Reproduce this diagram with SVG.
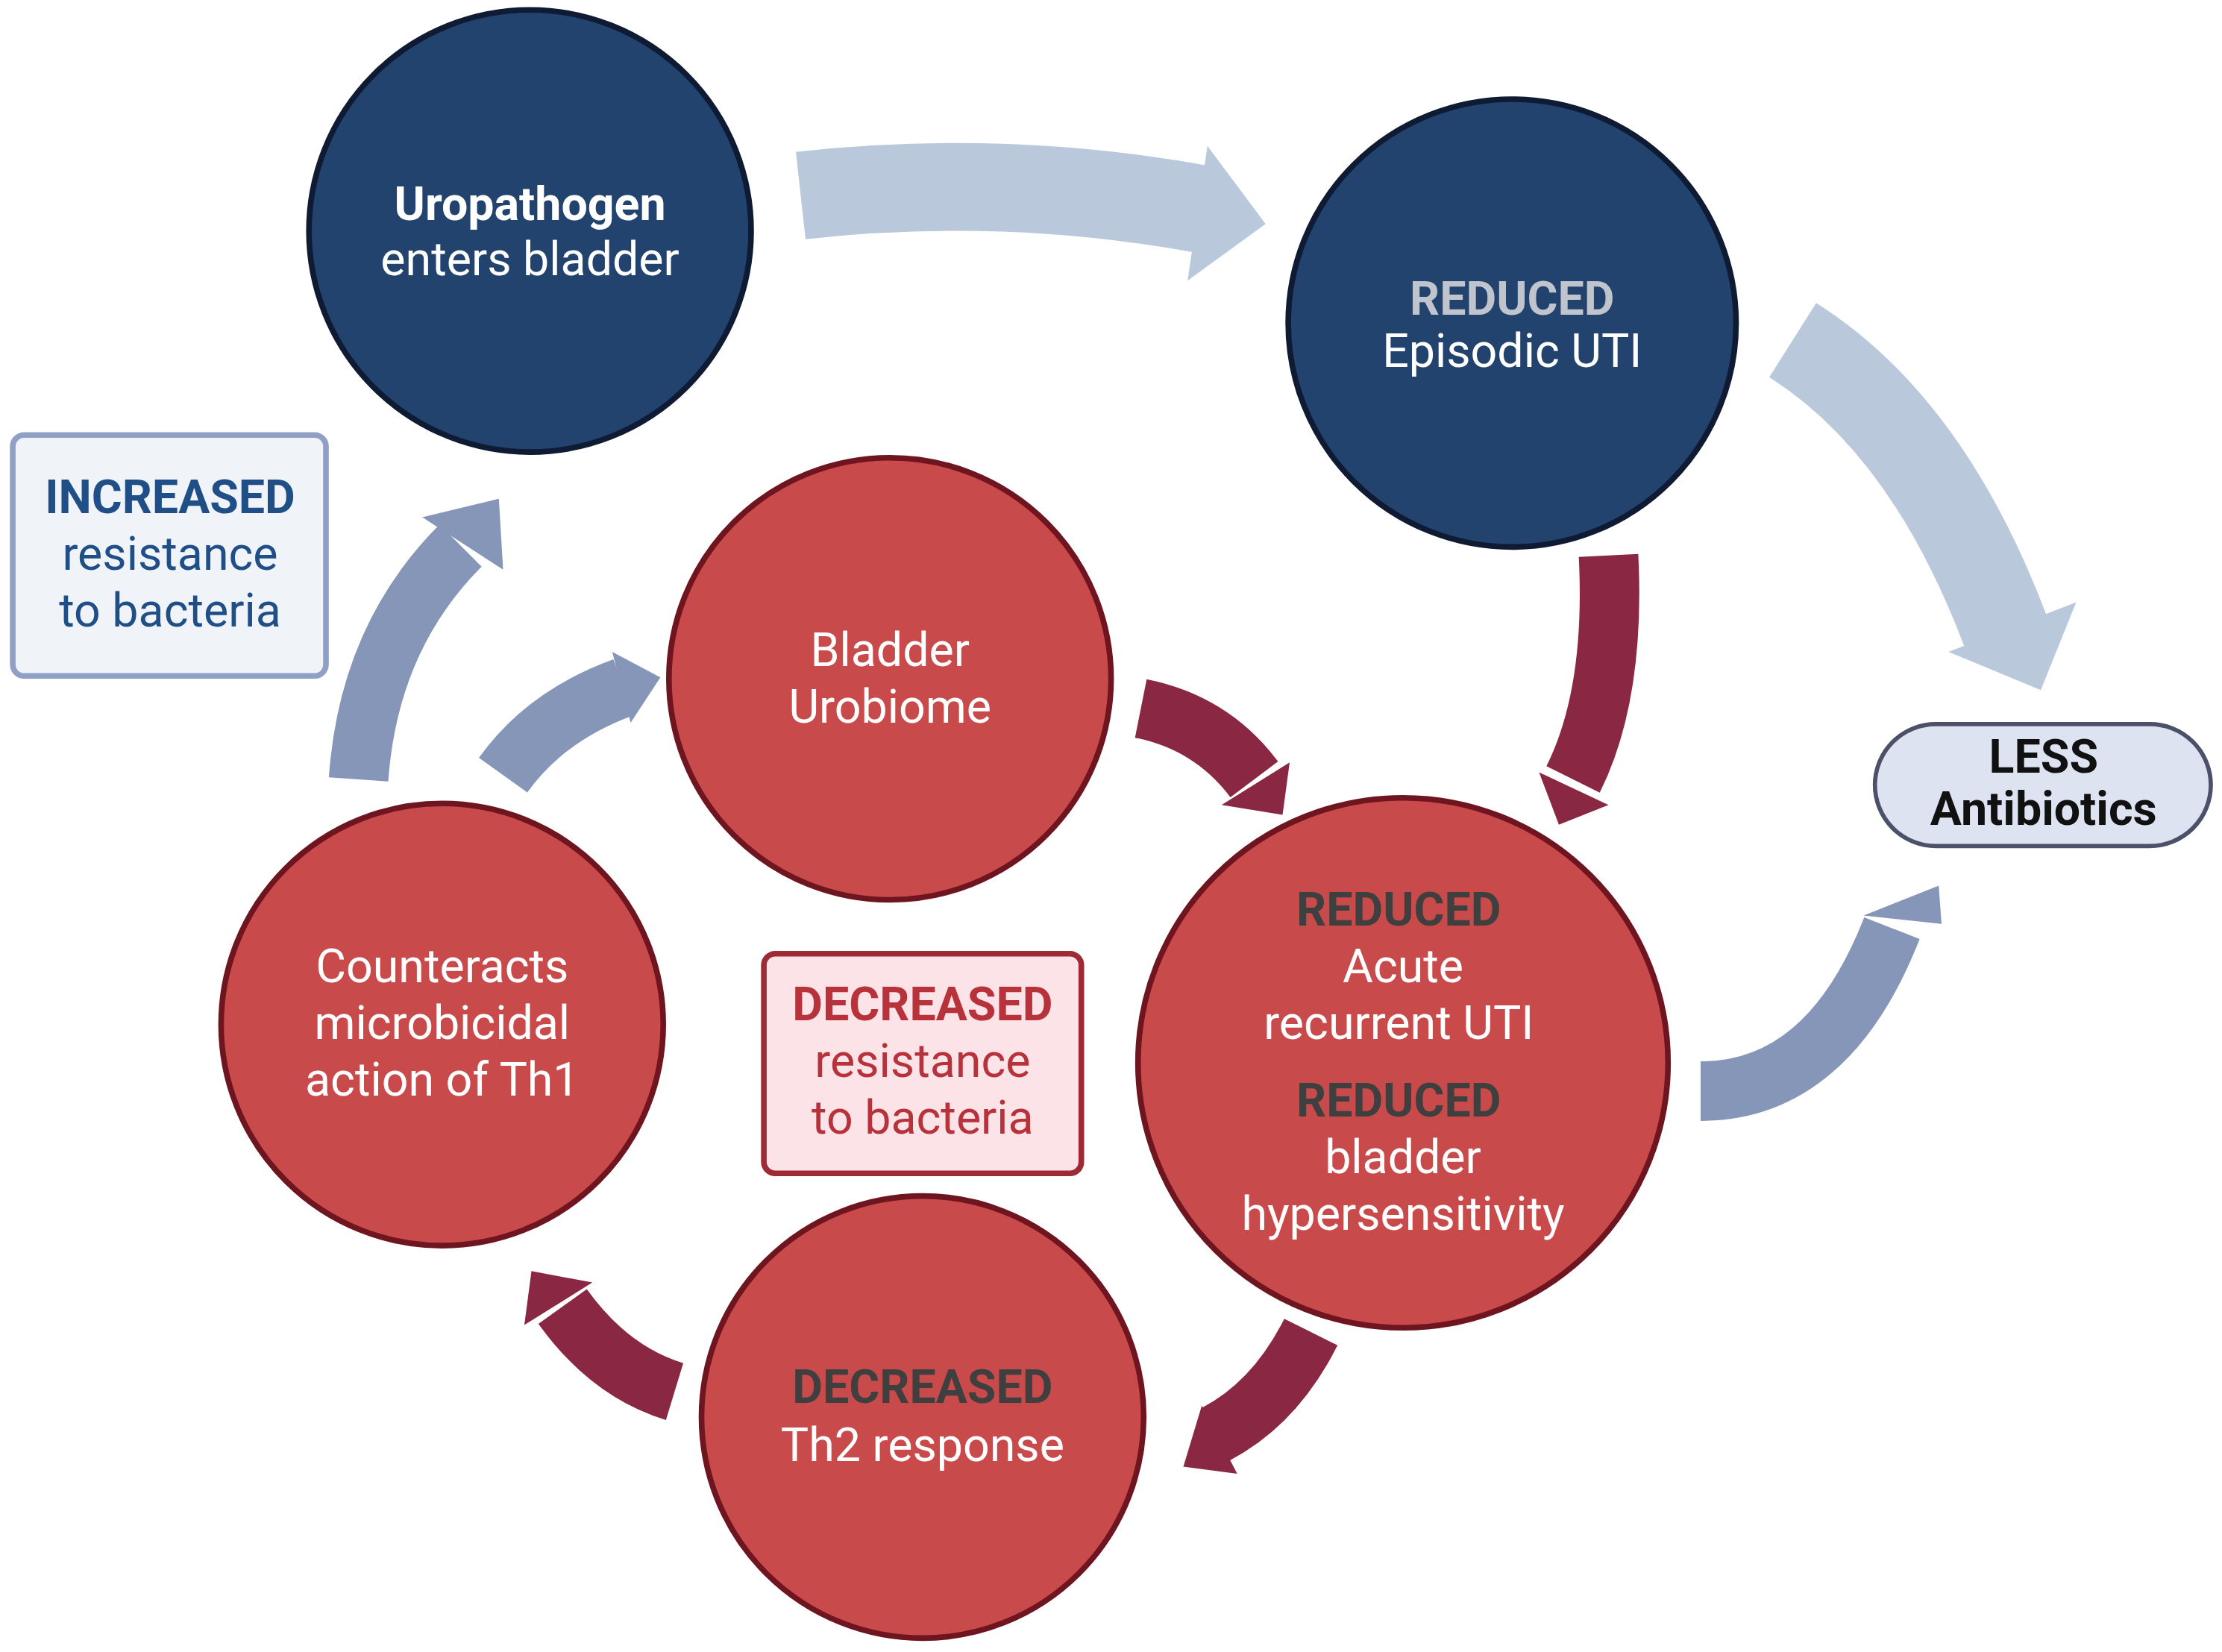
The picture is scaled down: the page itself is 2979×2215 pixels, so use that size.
<svg xmlns="http://www.w3.org/2000/svg" width="2979" height="2215" viewBox="0 0 2979 2215">
<style>
.blue{fill:#23436f;stroke:#0f1a33;stroke-width:4}
.red{fill:#c94a4a;stroke:#6e1520;stroke-width:4}
text{font-family:Roboto,"Liberation Sans",sans-serif;font-size:33px;text-anchor:middle}
.w{fill:#fff}
.b{font-weight:bold}
.g{fill:#c0c4cc;font-weight:bold}
.d{fill:#3f3f3f;font-weight:bold}
.lt{fill:none;stroke:#b9c8da;stroke-width:62}
.ltf{fill:#b9c8da}
.rd{fill:none;stroke:#8a2742;stroke-width:42}
.rdf{fill:#8a2742}
.bg{fill:none;stroke:#8596b8;stroke-width:42}
.bgf{fill:#8596b8}
</style>
<rect width="2979" height="2215" fill="#fff"/>
<g transform="scale(1.9)">
<g id="connectors">
<path class="lt" d="M565,138 Q710,122 850,148"/><polygon class="ltf" points="852,103 893,158 838,198"/>
<path class="lt" d="M1265,240 Q1360,300 1415,445"/><polygon class="ltf" points="1375,460 1440,487 1465,425"/>
<path class="rd" d="M1135,392 Q1140,490 1110,550"/><polygon class="rdf" points="1086,545 1100,582 1135,568"/>
<path class="rd" d="M805,500 Q855,510 885,550"/><polygon class="rdf" points="862,568 905,575 910,538"/>
<path class="rd" d="M925,940 Q900,990 858,1012"/><polygon class="rdf" points="848,992 835,1035 873,1040"/>
<path class="rd" d="M476,982 Q430,968 397,922"/><polygon class="rdf" points="370,935 375,897 418,905"/>
<path class="bg" d="M253,550 Q260,450 325,385"/><polygon class="bgf" points="298,365 352,352 355,402"/>
<path class="bg" d="M355,547 Q385,505 440,485"/><polygon class="bgf" points="432,460 466,478 445,510"/>
<path class="bg" d="M1200,770 Q1290,770 1335,655"/><polygon class="bgf" points="1315,646 1368,625 1370,652"/>
</g>
<g id="uropathogen"><circle class="blue" cx="374" cy="163" r="156"/>
<text class="w b" x="374" y="155" font-size="36">Uropathogen</text><text class="w" x="374" y="194">enters bladder</text></g>
<g id="episodic"><circle class="blue" cx="1067" cy="228" r="158"/>
<text class="g" x="1067" y="222">REDUCED</text><text class="w" x="1067" y="259">Episodic UTI</text></g>
<g id="urobiome"><circle class="red" cx="628" cy="479" r="156"/>
<text class="w" x="628" y="470">Bladder</text><text class="w" x="628" y="510">Urobiome</text></g>
<g id="counteracts"><circle class="red" cx="312" cy="723" r="156"/>
<text class="w" x="312" y="693">Counteracts</text><text class="w" x="312" y="733">microbicidal</text><text class="w" x="312" y="773">action of Th1</text></g>
<g id="acute"><circle class="red" cx="990" cy="750" r="187"/>
<text class="d" x="987" y="653">REDUCED</text><text class="w" x="990" y="693">Acute</text><text class="w" x="987" y="733">recurrent UTI</text>
<text class="d" x="987" y="788">REDUCED</text><text class="w" x="990" y="828">bladder</text><text class="w" x="990" y="868">hypersensitivity</text></g>
<g id="th2"><circle class="red" cx="651" cy="1000" r="156"/>
<text class="d" x="651" y="990">DECREASED</text><text class="w" x="651" y="1031">Th2 response</text></g>
<g id="increased"><rect x="9" y="307" width="221" height="170" rx="8" fill="#f0f4f9" stroke="#8fa0c4" stroke-width="4"/>
<text class="b" x="120" y="362" fill="#1f4f86">INCREASED</text><text x="120" y="402" fill="#1f4f86">resistance</text><text x="120" y="442" fill="#1f4f86">to bacteria</text></g>
<g id="decreased"><rect x="539" y="673" width="224" height="155" rx="8" fill="#fbe3e8" stroke="#9e2a35" stroke-width="4"/>
<text class="b" x="651" y="720" fill="#b8323c">DECREASED</text><text x="651" y="760" fill="#b8323c">resistance</text><text x="651" y="800" fill="#b8323c">to bacteria</text></g>
<g id="less"><rect x="1323" y="511" width="237" height="86" rx="43" fill="#dde3f0" stroke="#4a5168" stroke-width="3"/>
<text class="b" x="1442" y="545" fill="#111">LESS</text><text class="b" x="1442" y="582" fill="#111">Antibiotics</text></g>
</g>
</svg>
